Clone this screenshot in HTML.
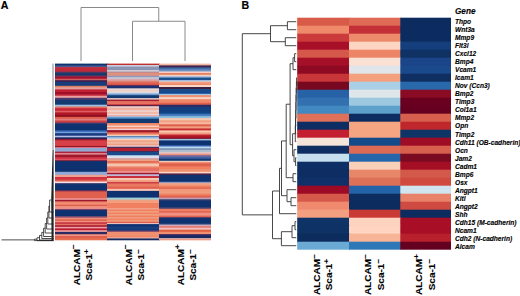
<!DOCTYPE html>
<html><head><meta charset="utf-8"><style>
html,body{margin:0;padding:0;background:#fff;}
body{width:520px;height:296px;overflow:hidden;}
svg{display:block;}
text{font-family:"Liberation Sans",sans-serif;}
</style></head><body>
<svg width="520" height="296" viewBox="0 0 520 296" shape-rendering="auto">
<rect width="520" height="296" fill="#fff"/>
<rect x="55" y="63.6" width="52.8" height="2.70" fill="#0e3270"/>
<rect x="55" y="65.5" width="52.8" height="2.40" fill="#4a5a90"/>
<rect x="55" y="67.1" width="52.8" height="2.30" fill="#c03040"/>
<rect x="55" y="68.6" width="52.8" height="3.80" fill="#c02838"/>
<rect x="55" y="71.6" width="52.8" height="1.80" fill="#6a3a60"/>
<rect x="55" y="72.6" width="52.8" height="3.90" fill="#1a3a6e"/>
<rect x="55" y="75.7" width="52.8" height="1.80" fill="#8a3050"/>
<rect x="55" y="76.7" width="52.8" height="2.80" fill="#a01030"/>
<rect x="55" y="78.7" width="52.8" height="2.30" fill="#d06060"/>
<rect x="55" y="80.2" width="52.8" height="2.40" fill="#402050"/>
<rect x="55" y="81.8" width="52.8" height="4.80" fill="#173d7a"/>
<rect x="55" y="85.8" width="52.8" height="2.30" fill="#e08060"/>
<rect x="55" y="87.3" width="52.8" height="2.90" fill="#e0a0a0"/>
<rect x="55" y="89.4" width="52.8" height="3.40" fill="#c02030"/>
<rect x="55" y="92.0" width="52.8" height="3.20" fill="#a01028"/>
<rect x="55" y="94.4" width="52.8" height="2.20" fill="#c83040"/>
<rect x="55" y="95.8" width="52.8" height="2.80" fill="#e8a0a0"/>
<rect x="55" y="97.8" width="52.8" height="2.80" fill="#4a3a70"/>
<rect x="55" y="99.8" width="52.8" height="5.70" fill="#103a70"/>
<rect x="55" y="104.7" width="52.8" height="2.60" fill="#a0c0e0"/>
<rect x="55" y="106.5" width="52.8" height="2.40" fill="#e07060"/>
<rect x="55" y="108.1" width="52.8" height="3.50" fill="#c82838"/>
<rect x="55" y="110.8" width="52.8" height="2.40" fill="#e06060"/>
<rect x="55" y="112.4" width="52.8" height="3.30" fill="#b01828"/>
<rect x="55" y="114.9" width="52.8" height="2.80" fill="#901020"/>
<rect x="55" y="116.9" width="52.8" height="2.80" fill="#e06050"/>
<rect x="55" y="118.9" width="52.8" height="2.40" fill="#e08080"/>
<rect x="55" y="120.5" width="52.8" height="2.90" fill="#d04040"/>
<rect x="55" y="122.6" width="52.8" height="2.30" fill="#3a3a70"/>
<rect x="55" y="124.1" width="52.8" height="6.90" fill="#0e3270"/>
<rect x="55" y="130.2" width="52.8" height="2.30" fill="#3060b0"/>
<rect x="55" y="131.7" width="52.8" height="2.30" fill="#70a0d8"/>
<rect x="55" y="133.2" width="52.8" height="3.30" fill="#1a3a80"/>
<rect x="55" y="135.7" width="52.8" height="2.40" fill="#b0c0e8"/>
<rect x="55" y="137.3" width="52.8" height="2.30" fill="#1a2a60"/>
<rect x="55" y="138.8" width="52.8" height="2.30" fill="#901830"/>
<rect x="55" y="140.3" width="52.8" height="6.40" fill="#d84048"/>
<rect x="55" y="145.9" width="52.8" height="1.90" fill="#901828"/>
<rect x="55" y="147.0" width="52.8" height="1.80" fill="#e07080"/>
<rect x="55" y="148.0" width="52.8" height="4.40" fill="#90a8d0"/>
<rect x="55" y="151.6" width="52.8" height="2.30" fill="#b02040"/>
<rect x="55" y="153.1" width="52.8" height="2.30" fill="#e09090"/>
<rect x="55" y="154.6" width="52.8" height="3.30" fill="#a01830"/>
<rect x="55" y="157.1" width="52.8" height="2.40" fill="#c83040"/>
<rect x="55" y="158.7" width="52.8" height="2.30" fill="#e05060"/>
<rect x="55" y="160.2" width="52.8" height="1.80" fill="#6a2040"/>
<rect x="55" y="161.2" width="52.8" height="11.40" fill="#0e3270"/>
<rect x="55" y="171.8" width="52.8" height="3.80" fill="#90a8d8"/>
<rect x="55" y="174.8" width="52.8" height="3.00" fill="#f0a090"/>
<rect x="55" y="177.0" width="52.8" height="3.40" fill="#d03040"/>
<rect x="55" y="179.6" width="52.8" height="2.30" fill="#e06050"/>
<rect x="55" y="181.1" width="52.8" height="1.80" fill="#f0a0a0"/>
<rect x="55" y="182.1" width="52.8" height="1.80" fill="#f8e8e8"/>
<rect x="55" y="183.1" width="52.8" height="1.80" fill="#3a3a70"/>
<rect x="55" y="184.1" width="52.8" height="6.90" fill="#0e3270"/>
<rect x="55" y="190.2" width="52.8" height="2.00" fill="#7a3050"/>
<rect x="55" y="191.4" width="52.8" height="7.70" fill="#e06050"/>
<rect x="55" y="198.3" width="52.8" height="2.30" fill="#f0a0a0"/>
<rect x="55" y="199.8" width="52.8" height="2.40" fill="#a01830"/>
<rect x="55" y="201.4" width="52.8" height="2.40" fill="#f08868"/>
<rect x="55" y="203.0" width="52.8" height="2.40" fill="#f09078"/>
<rect x="55" y="204.6" width="52.8" height="2.30" fill="#e06050"/>
<rect x="55" y="206.1" width="52.8" height="2.30" fill="#f09078"/>
<rect x="55" y="207.6" width="52.8" height="2.30" fill="#e89090"/>
<rect x="55" y="209.1" width="52.8" height="1.80" fill="#6a3a60"/>
<rect x="55" y="210.1" width="52.8" height="6.90" fill="#0e3270"/>
<rect x="55" y="216.2" width="52.8" height="2.30" fill="#8a5070"/>
<rect x="55" y="217.7" width="52.8" height="2.40" fill="#f09078"/>
<rect x="55" y="219.3" width="52.8" height="2.30" fill="#e06050"/>
<rect x="55" y="220.8" width="52.8" height="2.30" fill="#f09078"/>
<rect x="55" y="222.3" width="52.8" height="2.30" fill="#c03040"/>
<rect x="55" y="223.8" width="52.8" height="2.30" fill="#e87060"/>
<rect x="55" y="225.3" width="52.8" height="2.30" fill="#a01830"/>
<rect x="55" y="226.8" width="52.8" height="2.40" fill="#f0a0a0"/>
<rect x="55" y="228.4" width="52.8" height="2.60" fill="#b81830"/>
<rect x="55" y="230.2" width="52.8" height="2.50" fill="#f0a0a0"/>
<rect x="55" y="231.9" width="52.8" height="3.10" fill="#2a2a60"/>
<rect x="55" y="234.2" width="52.8" height="2.60" fill="#f09080"/>
<rect x="55" y="236.0" width="52.8" height="3.00" fill="#e06050"/>
<rect x="55" y="238.2" width="52.8" height="2.10" fill="#e87050"/>
<rect x="107" y="63.6" width="52.8" height="2.20" fill="#c03030"/>
<rect x="107" y="65.0" width="52.8" height="2.40" fill="#c8d0e0"/>
<rect x="107" y="66.6" width="52.8" height="4.30" fill="#8c94b4"/>
<rect x="107" y="70.1" width="52.8" height="2.30" fill="#d0d0dc"/>
<rect x="107" y="71.6" width="52.8" height="1.80" fill="#b08890"/>
<rect x="107" y="72.6" width="52.8" height="3.90" fill="#e09080"/>
<rect x="107" y="75.7" width="52.8" height="2.30" fill="#9098b8"/>
<rect x="107" y="77.2" width="52.8" height="2.30" fill="#c8c8d8"/>
<rect x="107" y="78.7" width="52.8" height="2.80" fill="#d8a8b0"/>
<rect x="107" y="80.7" width="52.8" height="2.40" fill="#e08070"/>
<rect x="107" y="82.3" width="52.8" height="3.30" fill="#e06050"/>
<rect x="107" y="84.8" width="52.8" height="1.80" fill="#803050"/>
<rect x="107" y="85.8" width="52.8" height="3.30" fill="#1a3070"/>
<rect x="107" y="88.3" width="52.8" height="2.40" fill="#e8d8d8"/>
<rect x="107" y="89.9" width="52.8" height="2.40" fill="#f0d0c0"/>
<rect x="107" y="91.5" width="52.8" height="2.30" fill="#e0d8e0"/>
<rect x="107" y="93.0" width="52.8" height="2.40" fill="#a0c0e0"/>
<rect x="107" y="94.6" width="52.8" height="1.80" fill="#3060a0"/>
<rect x="107" y="95.6" width="52.8" height="3.30" fill="#103a70"/>
<rect x="107" y="98.1" width="52.8" height="2.30" fill="#e8c8c8"/>
<rect x="107" y="99.6" width="52.8" height="2.30" fill="#a02030"/>
<rect x="107" y="101.1" width="52.8" height="3.90" fill="#e87060"/>
<rect x="107" y="104.2" width="52.8" height="1.80" fill="#c83040"/>
<rect x="107" y="105.2" width="52.8" height="1.80" fill="#402040"/>
<rect x="107" y="106.2" width="52.8" height="2.30" fill="#f0d0d0"/>
<rect x="107" y="107.7" width="52.8" height="3.40" fill="#f0b0a0"/>
<rect x="107" y="110.3" width="52.8" height="2.30" fill="#f0d8d0"/>
<rect x="107" y="111.8" width="52.8" height="2.80" fill="#f0b8a8"/>
<rect x="107" y="113.8" width="52.8" height="2.30" fill="#f0d0d0"/>
<rect x="107" y="115.3" width="52.8" height="1.80" fill="#f0a090"/>
<rect x="107" y="116.3" width="52.8" height="1.90" fill="#90c0e8"/>
<rect x="107" y="117.4" width="52.8" height="2.30" fill="#4080c0"/>
<rect x="107" y="118.9" width="52.8" height="4.90" fill="#103a70"/>
<rect x="107" y="123.0" width="52.8" height="1.90" fill="#f08060"/>
<rect x="107" y="124.1" width="52.8" height="2.30" fill="#f09070"/>
<rect x="107" y="125.6" width="52.8" height="2.30" fill="#f8d0c0"/>
<rect x="107" y="127.1" width="52.8" height="2.30" fill="#f08868"/>
<rect x="107" y="128.6" width="52.8" height="2.30" fill="#f0d0d0"/>
<rect x="107" y="130.1" width="52.8" height="2.90" fill="#a01828"/>
<rect x="107" y="132.2" width="52.8" height="2.30" fill="#e06050"/>
<rect x="107" y="133.7" width="52.8" height="2.30" fill="#f0a080"/>
<rect x="107" y="135.2" width="52.8" height="1.80" fill="#f0d8d0"/>
<rect x="107" y="136.2" width="52.8" height="1.80" fill="#4070b0"/>
<rect x="107" y="137.2" width="52.8" height="2.30" fill="#a0c8e8"/>
<rect x="107" y="138.7" width="52.8" height="2.40" fill="#f8d0c0"/>
<rect x="107" y="140.3" width="52.8" height="2.30" fill="#f0a080"/>
<rect x="107" y="141.8" width="52.8" height="2.80" fill="#f0b8a0"/>
<rect x="107" y="143.8" width="52.8" height="2.30" fill="#f0a080"/>
<rect x="107" y="145.3" width="52.8" height="2.30" fill="#e8c8d0"/>
<rect x="107" y="146.8" width="52.8" height="1.90" fill="#3a3060"/>
<rect x="107" y="147.9" width="52.8" height="3.90" fill="#b02030"/>
<rect x="107" y="151.0" width="52.8" height="1.80" fill="#3a3060"/>
<rect x="107" y="152.0" width="52.8" height="3.90" fill="#1a4a88"/>
<rect x="107" y="155.1" width="52.8" height="1.80" fill="#a0c8e8"/>
<rect x="107" y="156.1" width="52.8" height="2.80" fill="#e0e0e8"/>
<rect x="107" y="158.1" width="52.8" height="2.40" fill="#d0a0a0"/>
<rect x="107" y="159.7" width="52.8" height="2.30" fill="#f0a080"/>
<rect x="107" y="161.2" width="52.8" height="2.30" fill="#e06050"/>
<rect x="107" y="162.7" width="52.8" height="2.30" fill="#f0a080"/>
<rect x="107" y="164.2" width="52.8" height="2.30" fill="#f8d0c0"/>
<rect x="107" y="165.7" width="52.8" height="2.40" fill="#f0a080"/>
<rect x="107" y="167.3" width="52.8" height="4.80" fill="#e87060"/>
<rect x="107" y="171.3" width="52.8" height="2.30" fill="#f0a0a0"/>
<rect x="107" y="172.8" width="52.8" height="2.30" fill="#a01828"/>
<rect x="107" y="174.3" width="52.8" height="2.40" fill="#c0c8e8"/>
<rect x="107" y="175.9" width="52.8" height="2.90" fill="#c83040"/>
<rect x="107" y="178.0" width="52.8" height="2.80" fill="#f8c8b0"/>
<rect x="107" y="180.0" width="52.8" height="2.90" fill="#f0a080"/>
<rect x="107" y="182.1" width="52.8" height="2.10" fill="#c83040"/>
<rect x="107" y="183.4" width="52.8" height="4.20" fill="#e87860"/>
<rect x="107" y="186.8" width="52.8" height="2.80" fill="#e06050"/>
<rect x="107" y="188.8" width="52.8" height="2.90" fill="#f8c0b0"/>
<rect x="107" y="190.9" width="52.8" height="7.50" fill="#0e3270"/>
<rect x="107" y="197.6" width="52.8" height="2.80" fill="#a0d0d8"/>
<rect x="107" y="199.6" width="52.8" height="4.20" fill="#f0a080"/>
<rect x="107" y="203.0" width="52.8" height="5.80" fill="#f08060"/>
<rect x="107" y="208.0" width="52.8" height="2.40" fill="#f0a088"/>
<rect x="107" y="209.6" width="52.8" height="2.30" fill="#f08060"/>
<rect x="107" y="211.1" width="52.8" height="2.30" fill="#f0a080"/>
<rect x="107" y="212.6" width="52.8" height="2.20" fill="#f08060"/>
<rect x="107" y="214.0" width="52.8" height="2.40" fill="#f0a080"/>
<rect x="107" y="215.6" width="52.8" height="2.40" fill="#f08060"/>
<rect x="107" y="217.2" width="52.8" height="2.30" fill="#f0a080"/>
<rect x="107" y="218.7" width="52.8" height="2.30" fill="#f08060"/>
<rect x="107" y="220.2" width="52.8" height="2.30" fill="#f0a080"/>
<rect x="107" y="221.7" width="52.8" height="2.20" fill="#e06050"/>
<rect x="107" y="223.1" width="52.8" height="1.80" fill="#f0c8c8"/>
<rect x="107" y="224.1" width="52.8" height="3.20" fill="#0e3270"/>
<rect x="107" y="226.5" width="52.8" height="3.70" fill="#173f80"/>
<rect x="107" y="229.4" width="52.8" height="2.00" fill="#0e3270"/>
<rect x="107" y="230.6" width="52.8" height="2.20" fill="#8a5070"/>
<rect x="107" y="232.0" width="52.8" height="4.60" fill="#f09070"/>
<rect x="107" y="235.8" width="52.8" height="2.60" fill="#f08868"/>
<rect x="107" y="237.6" width="52.8" height="1.60" fill="#f0d0c8"/>
<rect x="107" y="238.4" width="52.8" height="1.90" fill="#1a2a60"/>
<rect x="159" y="63.6" width="52" height="2.60" fill="#f0b8a0"/>
<rect x="159" y="65.4" width="52" height="2.80" fill="#402050"/>
<rect x="159" y="67.4" width="52" height="2.80" fill="#3a6aa8"/>
<rect x="159" y="69.4" width="52" height="2.90" fill="#7090c0"/>
<rect x="159" y="71.5" width="52" height="2.10" fill="#f8e0e0"/>
<rect x="159" y="72.8" width="52" height="2.80" fill="#e88060"/>
<rect x="159" y="74.8" width="52" height="2.20" fill="#f0d0c0"/>
<rect x="159" y="76.2" width="52" height="2.10" fill="#a0c0e0"/>
<rect x="159" y="77.5" width="52" height="3.50" fill="#1a5090"/>
<rect x="159" y="80.2" width="52" height="2.20" fill="#c0d8f0"/>
<rect x="159" y="81.6" width="52" height="2.80" fill="#f0a080"/>
<rect x="159" y="83.6" width="52" height="2.20" fill="#f08868"/>
<rect x="159" y="85.0" width="52" height="2.80" fill="#f8d8c8"/>
<rect x="159" y="87.0" width="52" height="2.80" fill="#402040"/>
<rect x="159" y="89.0" width="52" height="2.80" fill="#1a4a8a"/>
<rect x="159" y="91.0" width="52" height="3.60" fill="#154a90"/>
<rect x="159" y="93.8" width="52" height="2.10" fill="#a0c8e8"/>
<rect x="159" y="95.1" width="52" height="2.80" fill="#f09070"/>
<rect x="159" y="97.1" width="52" height="2.90" fill="#f8d0c0"/>
<rect x="159" y="99.2" width="52" height="4.30" fill="#f08868"/>
<rect x="159" y="102.7" width="52" height="2.80" fill="#e06050"/>
<rect x="159" y="104.7" width="52" height="2.90" fill="#302a60"/>
<rect x="159" y="106.8" width="52" height="6.80" fill="#113f80"/>
<rect x="159" y="112.8" width="52" height="2.20" fill="#1d5598"/>
<rect x="159" y="114.2" width="52" height="2.80" fill="#4a80c0"/>
<rect x="159" y="116.2" width="52" height="2.80" fill="#90c0e0"/>
<rect x="159" y="118.2" width="52" height="2.90" fill="#f8c8b0"/>
<rect x="159" y="120.3" width="52" height="2.80" fill="#f0a080"/>
<rect x="159" y="122.3" width="52" height="2.80" fill="#f8b8a0"/>
<rect x="159" y="124.3" width="52" height="2.90" fill="#e06050"/>
<rect x="159" y="126.4" width="52" height="2.80" fill="#f0a080"/>
<rect x="159" y="128.4" width="52" height="2.80" fill="#c83030"/>
<rect x="159" y="130.4" width="52" height="2.80" fill="#f8c8b0"/>
<rect x="159" y="132.4" width="52" height="2.90" fill="#f0a080"/>
<rect x="159" y="134.5" width="52" height="2.80" fill="#c02030"/>
<rect x="159" y="136.5" width="52" height="2.80" fill="#a01020"/>
<rect x="159" y="138.5" width="52" height="1.40" fill="#604060"/>
<rect x="159" y="139.1" width="52" height="2.10" fill="#a0c8e8"/>
<rect x="159" y="140.4" width="52" height="5.80" fill="#0e3270"/>
<rect x="159" y="145.4" width="52" height="2.00" fill="#4a78c0"/>
<rect x="159" y="146.6" width="52" height="2.30" fill="#c0d8f0"/>
<rect x="159" y="148.1" width="52" height="2.80" fill="#8098b8"/>
<rect x="159" y="150.1" width="52" height="2.90" fill="#b0c0d0"/>
<rect x="159" y="152.2" width="52" height="2.30" fill="#e8c8c0"/>
<rect x="159" y="153.7" width="52" height="2.30" fill="#e89080"/>
<rect x="159" y="155.2" width="52" height="2.30" fill="#7a6a98"/>
<rect x="159" y="156.7" width="52" height="2.80" fill="#4060a8"/>
<rect x="159" y="158.7" width="52" height="2.90" fill="#103a70"/>
<rect x="159" y="160.8" width="52" height="1.80" fill="#f0d8d0"/>
<rect x="159" y="161.8" width="52" height="2.30" fill="#f09070"/>
<rect x="159" y="163.3" width="52" height="3.90" fill="#e06050"/>
<rect x="159" y="166.4" width="52" height="3.50" fill="#f08060"/>
<rect x="159" y="169.1" width="52" height="3.50" fill="#f09070"/>
<rect x="159" y="171.8" width="52" height="2.40" fill="#f8d8c8"/>
<rect x="159" y="173.4" width="52" height="2.20" fill="#602040"/>
<rect x="159" y="174.8" width="52" height="7.80" fill="#0e3270"/>
<rect x="159" y="181.8" width="52" height="2.20" fill="#9098c0"/>
<rect x="159" y="183.2" width="52" height="1.00" fill="#f0b0a0"/>
<rect x="159" y="183.4" width="52" height="2.90" fill="#f0a080"/>
<rect x="159" y="185.5" width="52" height="2.80" fill="#f08060"/>
<rect x="159" y="187.5" width="52" height="2.10" fill="#e06050"/>
<rect x="159" y="188.8" width="52" height="3.50" fill="#f09878"/>
<rect x="159" y="191.5" width="52" height="2.90" fill="#f0a080"/>
<rect x="159" y="193.6" width="52" height="2.80" fill="#f08060"/>
<rect x="159" y="195.6" width="52" height="2.80" fill="#e06050"/>
<rect x="159" y="197.6" width="52" height="2.50" fill="#c0a0b0"/>
<rect x="159" y="199.3" width="52" height="2.30" fill="#303a70"/>
<rect x="159" y="200.8" width="52" height="7.60" fill="#0e3270"/>
<rect x="159" y="207.6" width="52" height="2.30" fill="#705070"/>
<rect x="159" y="209.1" width="52" height="2.80" fill="#f08060"/>
<rect x="159" y="211.1" width="52" height="2.30" fill="#e06050"/>
<rect x="159" y="212.6" width="52" height="3.90" fill="#f09080"/>
<rect x="159" y="215.7" width="52" height="2.30" fill="#e06050"/>
<rect x="159" y="217.2" width="52" height="1.80" fill="#3a3a70"/>
<rect x="159" y="218.2" width="52" height="6.40" fill="#0e3270"/>
<rect x="159" y="223.8" width="52" height="1.80" fill="#5a6a98"/>
<rect x="159" y="224.8" width="52" height="2.30" fill="#d0a8b8"/>
<rect x="159" y="226.3" width="52" height="2.20" fill="#e87060"/>
<rect x="159" y="227.7" width="52" height="2.80" fill="#f0c0c0"/>
<rect x="159" y="229.7" width="52" height="2.90" fill="#e06040"/>
<rect x="159" y="231.8" width="52" height="3.10" fill="#f09070"/>
<rect x="159" y="234.1" width="52" height="1.80" fill="#4a2a60"/>
<rect x="159" y="235.1" width="52" height="3.90" fill="#1a2a60"/>
<rect x="159" y="238.2" width="52" height="1.80" fill="#f0c8c8"/>
<rect x="159" y="239.2" width="52" height="1.10" fill="#f09070"/>
<rect x="297.2" y="17.70" width="52.60" height="8.80" fill="#d85a48"/>
<rect x="349" y="17.70" width="52.10" height="8.80" fill="#df6a55"/>
<rect x="400.3" y="17.70" width="50.70" height="8.80" fill="#0c2c60"/>
<rect x="297.2" y="25.70" width="52.60" height="8.80" fill="#ee8a6a"/>
<rect x="349" y="25.70" width="52.10" height="8.80" fill="#c43038"/>
<rect x="400.3" y="25.70" width="50.70" height="8.80" fill="#0c2c60"/>
<rect x="297.2" y="33.70" width="52.60" height="8.80" fill="#cc3b3b"/>
<rect x="349" y="33.70" width="52.10" height="8.80" fill="#ee8a6c"/>
<rect x="400.3" y="33.70" width="50.70" height="8.80" fill="#0c2c60"/>
<rect x="297.2" y="41.70" width="52.60" height="8.80" fill="#a8102a"/>
<rect x="349" y="41.70" width="52.10" height="8.80" fill="#fcd6c2"/>
<rect x="400.3" y="41.70" width="50.70" height="8.80" fill="#143f7c"/>
<rect x="297.2" y="49.70" width="52.60" height="8.80" fill="#d6584a"/>
<rect x="349" y="49.70" width="52.10" height="8.80" fill="#ec8466"/>
<rect x="400.3" y="49.70" width="50.70" height="8.80" fill="#0f3163"/>
<rect x="297.2" y="57.70" width="52.60" height="8.80" fill="#a50f28"/>
<rect x="349" y="57.70" width="52.10" height="8.80" fill="#fbe0d4"/>
<rect x="400.3" y="57.70" width="50.70" height="8.80" fill="#1a4689"/>
<rect x="297.2" y="65.70" width="52.60" height="8.80" fill="#8e0a22"/>
<rect x="349" y="65.70" width="52.10" height="8.80" fill="#dfe5ea"/>
<rect x="400.3" y="65.70" width="50.70" height="8.80" fill="#1b4a8c"/>
<rect x="297.2" y="73.70" width="52.60" height="8.80" fill="#c9363a"/>
<rect x="349" y="73.70" width="52.10" height="8.80" fill="#f4a07e"/>
<rect x="400.3" y="73.70" width="50.70" height="8.80" fill="#0f2f62"/>
<rect x="297.2" y="81.70" width="52.60" height="8.80" fill="#780820"/>
<rect x="349" y="81.70" width="52.10" height="8.80" fill="#a9d0e6"/>
<rect x="400.3" y="81.70" width="50.70" height="8.80" fill="#2a68ac"/>
<rect x="297.2" y="89.70" width="52.60" height="8.80" fill="#2761a6"/>
<rect x="349" y="89.70" width="52.10" height="8.80" fill="#dfe6ea"/>
<rect x="400.3" y="89.70" width="50.70" height="8.80" fill="#8a0c24"/>
<rect x="297.2" y="97.70" width="52.60" height="8.80" fill="#3370b0"/>
<rect x="349" y="97.70" width="52.10" height="8.80" fill="#9cc9e0"/>
<rect x="400.3" y="97.70" width="50.70" height="8.80" fill="#6a0020"/>
<rect x="297.2" y="105.70" width="52.60" height="8.80" fill="#4189c0"/>
<rect x="349" y="105.70" width="52.10" height="8.80" fill="#5ea0cc"/>
<rect x="400.3" y="105.70" width="50.70" height="8.80" fill="#650020"/>
<rect x="297.2" y="113.70" width="52.60" height="8.80" fill="#e07058"/>
<rect x="349" y="113.70" width="52.10" height="8.80" fill="#0d2c62"/>
<rect x="400.3" y="113.70" width="50.70" height="8.80" fill="#d6604d"/>
<rect x="297.2" y="121.70" width="52.60" height="8.80" fill="#0e2d63"/>
<rect x="349" y="121.70" width="52.10" height="8.80" fill="#f4a582"/>
<rect x="400.3" y="121.70" width="50.70" height="8.80" fill="#c0272d"/>
<rect x="297.2" y="129.70" width="52.60" height="8.80" fill="#c41f30"/>
<rect x="349" y="129.70" width="52.10" height="8.80" fill="#f5a582"/>
<rect x="400.3" y="129.70" width="50.70" height="8.80" fill="#0f3566"/>
<rect x="297.2" y="137.70" width="52.60" height="8.80" fill="#f4e4da"/>
<rect x="349" y="137.70" width="52.10" height="8.80" fill="#154a8a"/>
<rect x="400.3" y="137.70" width="50.70" height="8.80" fill="#9e0c26"/>
<rect x="297.2" y="145.70" width="52.60" height="8.80" fill="#0e2d62"/>
<rect x="349" y="145.70" width="52.10" height="8.80" fill="#dd6a55"/>
<rect x="400.3" y="145.70" width="50.70" height="8.80" fill="#d6604d"/>
<rect x="297.2" y="153.70" width="52.60" height="8.80" fill="#c7e0ef"/>
<rect x="349" y="153.70" width="52.10" height="8.80" fill="#2566aa"/>
<rect x="400.3" y="153.70" width="50.70" height="8.80" fill="#7a0a22"/>
<rect x="297.2" y="161.70" width="52.60" height="8.80" fill="#0e2f66"/>
<rect x="349" y="161.70" width="52.10" height="8.80" fill="#fbd0b9"/>
<rect x="400.3" y="161.70" width="50.70" height="8.80" fill="#a50f26"/>
<rect x="297.2" y="169.70" width="52.60" height="8.80" fill="#0e2d62"/>
<rect x="349" y="169.70" width="52.10" height="8.80" fill="#e8866a"/>
<rect x="400.3" y="169.70" width="50.70" height="8.80" fill="#d35a4a"/>
<rect x="297.2" y="177.70" width="52.60" height="8.80" fill="#10306a"/>
<rect x="349" y="177.70" width="52.10" height="8.80" fill="#df7058"/>
<rect x="400.3" y="177.70" width="50.70" height="8.80" fill="#d04a40"/>
<rect x="297.2" y="185.70" width="52.60" height="8.80" fill="#9c0a25"/>
<rect x="349" y="185.70" width="52.10" height="8.80" fill="#2563a8"/>
<rect x="400.3" y="185.70" width="50.70" height="8.80" fill="#d1e5f0"/>
<rect x="297.2" y="193.70" width="52.60" height="8.80" fill="#d5584a"/>
<rect x="349" y="193.70" width="52.10" height="8.80" fill="#0d2c5f"/>
<rect x="400.3" y="193.70" width="50.70" height="8.80" fill="#e8836a"/>
<rect x="297.2" y="201.70" width="52.60" height="8.80" fill="#f08a6e"/>
<rect x="349" y="201.70" width="52.10" height="8.80" fill="#0c2c60"/>
<rect x="400.3" y="201.70" width="50.70" height="8.80" fill="#cf4a40"/>
<rect x="297.2" y="209.70" width="52.60" height="8.80" fill="#f4a080"/>
<rect x="349" y="209.70" width="52.10" height="8.80" fill="#c93a36"/>
<rect x="400.3" y="209.70" width="50.70" height="8.80" fill="#0c2c60"/>
<rect x="297.2" y="217.70" width="52.60" height="8.80" fill="#0f3366"/>
<rect x="349" y="217.70" width="52.10" height="8.80" fill="#fcd3bf"/>
<rect x="400.3" y="217.70" width="50.70" height="8.80" fill="#a80f26"/>
<rect x="297.2" y="225.70" width="52.60" height="8.80" fill="#0e3264"/>
<rect x="349" y="225.70" width="52.10" height="8.80" fill="#fdd5c0"/>
<rect x="400.3" y="225.70" width="50.70" height="8.80" fill="#a80f26"/>
<rect x="297.2" y="233.70" width="52.60" height="8.80" fill="#0c2c5e"/>
<rect x="349" y="233.70" width="52.10" height="8.80" fill="#f8b497"/>
<rect x="400.3" y="233.70" width="50.70" height="8.80" fill="#b8202c"/>
<rect x="297.2" y="241.70" width="52.60" height="8.00" fill="#6aaad5"/>
<rect x="349" y="241.70" width="52.10" height="8.00" fill="#2f78b8"/>
<rect x="400.3" y="241.70" width="50.70" height="8.00" fill="#640020"/>
<g font-family="Liberation Sans, sans-serif" font-weight="bold" font-style="italic" fill="#000" stroke="#000" stroke-width="0.12">
<text x="455" y="14.2" font-size="8.2">Gene</text>
<text transform="translate(455,24.10) scale(1.035,1)" font-size="6.38">Thpo</text>
<text transform="translate(455,32.13) scale(1.035,1)" font-size="6.38">Wnt3a</text>
<text transform="translate(455,40.16) scale(1.035,1)" font-size="6.38">Mmp9</text>
<text transform="translate(455,48.19) scale(1.035,1)" font-size="6.38">Flt3l</text>
<text transform="translate(455,56.22) scale(1.035,1)" font-size="6.38">Cxcl12</text>
<text transform="translate(455,64.25) scale(1.035,1)" font-size="6.38">Bmp4</text>
<text transform="translate(455,72.28) scale(1.035,1)" font-size="6.38">Vcam1</text>
<text transform="translate(455,80.31) scale(1.035,1)" font-size="6.38">Icam1</text>
<text transform="translate(455,88.34) scale(1.035,1)" font-size="6.38">Nov (Ccn3)</text>
<text transform="translate(455,96.37) scale(1.035,1)" font-size="6.38">Bmp2</text>
<text transform="translate(455,104.40) scale(1.035,1)" font-size="6.38">Timp3</text>
<text transform="translate(455,112.43) scale(1.035,1)" font-size="6.38">Col1a1</text>
<text transform="translate(455,120.46) scale(1.035,1)" font-size="6.38">Mmp2</text>
<text transform="translate(455,128.49) scale(1.035,1)" font-size="6.38">Opn</text>
<text transform="translate(455,136.52) scale(1.035,1)" font-size="6.38">Timp2</text>
<text transform="translate(455,144.55) scale(1.035,1)" font-size="6.38">Cdh11 (OB-cadherin)</text>
<text transform="translate(455,152.58) scale(1.035,1)" font-size="6.38">Ocn</text>
<text transform="translate(455,160.61) scale(1.035,1)" font-size="6.38">Jam2</text>
<text transform="translate(455,168.64) scale(1.035,1)" font-size="6.38">Cadm1</text>
<text transform="translate(455,176.67) scale(1.035,1)" font-size="6.38">Bmp6</text>
<text transform="translate(455,184.70) scale(1.035,1)" font-size="6.38">Osx</text>
<text transform="translate(455,192.73) scale(1.035,1)" font-size="6.38">Angpt1</text>
<text transform="translate(455,200.76) scale(1.035,1)" font-size="6.38">Kitl</text>
<text transform="translate(455,208.79) scale(1.035,1)" font-size="6.38">Angpt2</text>
<text transform="translate(455,216.82) scale(1.035,1)" font-size="6.38">Shh</text>
<text transform="translate(455,224.85) scale(1.035,1)" font-size="6.38">Cdh15 (M-cadherin)</text>
<text transform="translate(455,232.88) scale(1.035,1)" font-size="6.38">Ncam1</text>
<text transform="translate(455,240.91) scale(1.035,1)" font-size="6.38">Cdh2 (N-cadherin)</text>
<text transform="translate(455,248.94) scale(1.035,1)" font-size="6.38">Alcam</text>
</g>
<text x="0.7" y="9.0" font-family="Liberation Sans, sans-serif" font-weight="bold" font-size="10.6" fill="#000" stroke="#000" stroke-width="0.2">A</text>
<text x="241.6" y="8.7" font-family="Liberation Sans, sans-serif" font-weight="bold" font-size="10.6" fill="#000" stroke="#000" stroke-width="0.2">B</text>
<g font-family="Liberation Sans, sans-serif" font-weight="bold" font-size="9.01" fill="#000" stroke="#000" stroke-width="0.1" text-anchor="middle"><text transform="translate(79.5,264.8) rotate(-90) scale(1.11,1)">ALCAM<tspan font-size="7.66" dy="-3.24">−</tspan></text><text transform="translate(92.2,264.8) rotate(-90) scale(1.11,1)">Sca-1<tspan font-size="7.66" dy="-3.24">+</tspan></text></g>
<g font-family="Liberation Sans, sans-serif" font-weight="bold" font-size="9.01" fill="#000" stroke="#000" stroke-width="0.1" text-anchor="middle"><text transform="translate(131.5,264.8) rotate(-90) scale(1.11,1)">ALCAM<tspan font-size="7.66" dy="-3.24">−</tspan></text><text transform="translate(144.2,264.8) rotate(-90) scale(1.11,1)">Sca-1<tspan font-size="7.66" dy="-3.24">−</tspan></text></g>
<g font-family="Liberation Sans, sans-serif" font-weight="bold" font-size="9.01" fill="#000" stroke="#000" stroke-width="0.1" text-anchor="middle"><text transform="translate(183.5,264.8) rotate(-90) scale(1.11,1)">ALCAM<tspan font-size="7.66" dy="-3.24">+</tspan></text><text transform="translate(196.2,264.8) rotate(-90) scale(1.11,1)">Sca-1<tspan font-size="7.66" dy="-3.24">−</tspan></text></g>
<g font-family="Liberation Sans, sans-serif" font-weight="bold" font-size="9.01" fill="#000" stroke="#000" stroke-width="0.1" text-anchor="middle"><text transform="translate(319.85,274.5) rotate(-90) scale(1.11,1)">ALCAM<tspan font-size="7.66" dy="-3.24">−</tspan></text><text transform="translate(332.35,274.5) rotate(-90) scale(1.11,1)">Sca-1<tspan font-size="7.66" dy="-3.24">+</tspan></text></g>
<g font-family="Liberation Sans, sans-serif" font-weight="bold" font-size="9.01" fill="#000" stroke="#000" stroke-width="0.1" text-anchor="middle"><text transform="translate(371.4,274.5) rotate(-90) scale(1.11,1)">ALCAM<tspan font-size="7.66" dy="-3.24">−</tspan></text><text transform="translate(383.9,274.5) rotate(-90) scale(1.11,1)">Sca-1<tspan font-size="7.66" dy="-3.24">−</tspan></text></g>
<g font-family="Liberation Sans, sans-serif" font-weight="bold" font-size="9.01" fill="#000" stroke="#000" stroke-width="0.1" text-anchor="middle"><text transform="translate(422.4,274.5) rotate(-90) scale(1.11,1)">ALCAM<tspan font-size="7.66" dy="-3.24">+</tspan></text><text transform="translate(434.9,274.5) rotate(-90) scale(1.11,1)">Sca-1<tspan font-size="7.66" dy="-3.24">−</tspan></text></g>
<path d="M81 61V7.5H158.75V21.25 M132.5 61V21.25H185V61" fill="none" stroke="#8a8a8a" stroke-width="1"/>
<path d="M53 63.6V150" fill="none" stroke="#777" stroke-width="0.9"/>
<path d="M52.6 150 L53.6 150 L53.6 240.6 L51.6 240.6 L51.2 200 Z" fill="#222"/>
<path d="M49.6 200.00V212M49.6 200.00H51.0M49.6 212H53.5M48.9 206.00V218M48.9 206.00H49.6M48.9 218H53.5M47.8 212.00V224M47.8 212.00H48.9M47.8 224H53.5M46.6 218.00V229M46.6 218.00H47.8M46.6 229H53.5M45.2 223.50V233M45.2 223.50H46.6M45.2 233H53.5M43.6 228.25V236.5M43.6 228.25H45.2M43.6 236.5H53.5M41.8 232.38V238.5M41.8 232.38H43.6M41.8 238.5H53.5M39.5 235.44V240M39.5 235.44H41.8M39.5 240H53.5M37.0 237.72V240.6M37.0 237.72H39.5M37.0 240.6H53.5M34.5 239.16V240.6M34.5 239.16H37.0M34.5 240.6H53.5M1.5 239.88H34.5" fill="none" stroke="#222" stroke-width="0.8"/>
<path d="M242.3 33.7L270.5 33.7M270.5 25.7L270.5 41.7M270.5 25.7L287.4 25.7M287.4 21.7L287.4 29.7M287.4 21.7L296.3 21.7M287.4 29.7L296.3 29.7M270.5 41.7L285.3 41.7M285.3 37.7L285.3 45.7M285.3 37.7L296.3 37.7M285.3 45.7L296.3 45.7" fill="none" stroke="#333" stroke-width="0.9"/>
<path d="M242.3 33.7V214.86H272.5" fill="none" stroke="#333" stroke-width="0.9"/>
<path d="M272.5 191.01V238.70M272.5 191.01H279.5M272.5 238.70H281.4M279.5 168.33V213.70M279.5 168.33H281.5M279.5 213.70H296.3M281.5 140.95V195.70M281.5 140.95H286.2M281.5 195.70H287.0M286.2 104.21V177.70M286.2 104.21H290.1M286.2 177.70H293.0M290.1 63.70V144.72M290.1 63.70H293.0M290.1 144.72H292.6M293.0 57.70V69.70M293.0 57.70H294.6M293.0 69.70H296.3M294.6 53.70V61.70M294.6 53.70H296.3M294.6 61.70H296.3M292.6 133.73V155.70M292.6 133.73H295.3M292.6 155.70H294.0M295.3 125.76V141.70M295.3 125.76H295.5M295.3 141.70H296.3M295.5 117.83V133.70M295.5 117.83H295.7M295.5 133.70H296.3M295.7 109.95V125.70M295.7 109.95H295.9M295.7 125.70H296.3M295.9 102.20V117.70M295.9 102.20H296.0M295.9 117.70H296.3M296.0 94.70V109.70M296.0 94.70H296.2M296.0 109.70H296.3M296.2 87.70V101.70M296.2 87.70H296.4M296.2 101.70H296.3M296.4 81.70V93.70M296.4 81.70H296.6M296.4 93.70H296.3M296.6 77.70V85.70M296.6 77.70H296.3M296.6 85.70H296.3M294.0 149.70V161.70M294.0 149.70H296.3M294.0 161.70H295.6M295.6 157.70V165.70M295.6 157.70H296.3M295.6 165.70H296.3M293.0 173.70V181.70M293.0 173.70H296.3M293.0 181.70H296.3M287.0 189.70V201.70M287.0 189.70H296.3M287.0 201.70H291.0M291.0 197.70V205.70M291.0 197.70H296.3M291.0 205.70H296.3M281.4 231.70V245.70M281.4 231.70H292.0M281.4 245.70H296.3M292.0 225.70V237.70M292.0 225.70H295.0M292.0 237.70H296.3M295.0 221.70V229.70M295.0 221.70H296.3M295.0 229.70H296.3" fill="none" stroke="#333" stroke-width="0.9"/>
</svg>
</body></html>
